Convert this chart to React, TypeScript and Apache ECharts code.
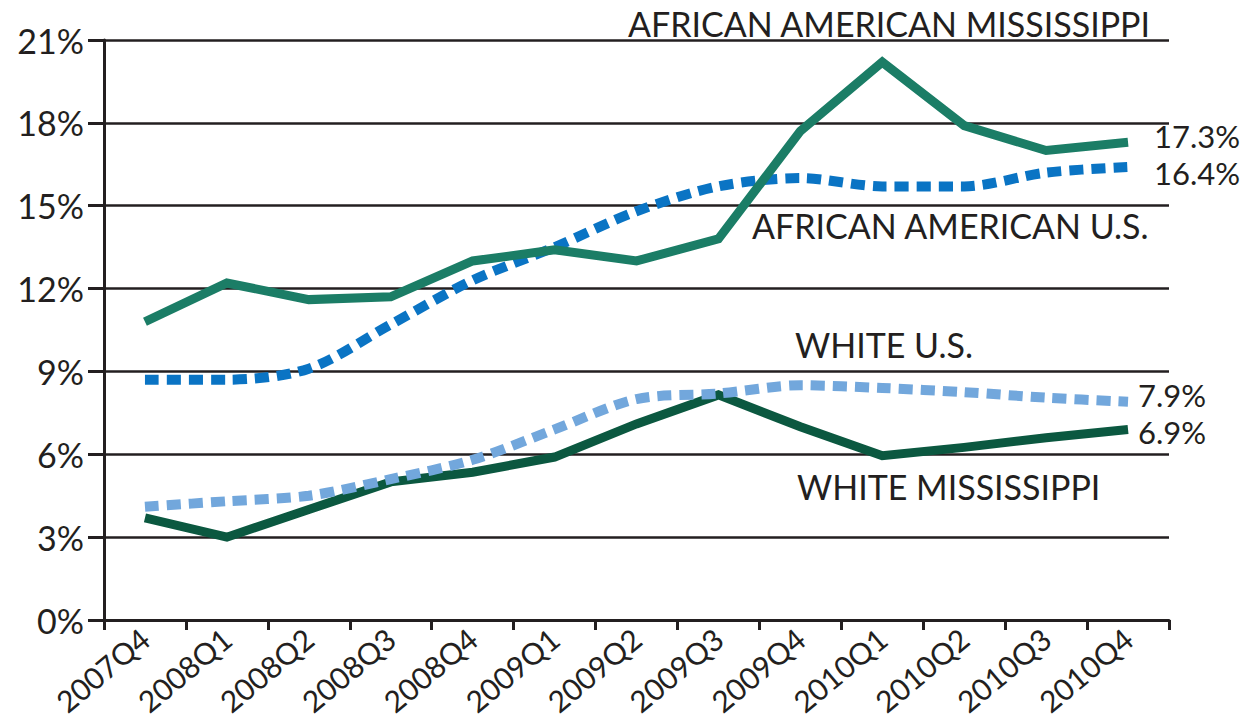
import React, { useEffect, useRef } from "react";
import * as echarts from "echarts";

const quarters = [
  "2007Q4", "2008Q1", "2008Q2", "2008Q3", "2008Q4", "2009Q1", "2009Q2",
  "2009Q3", "2009Q4", "2010Q1", "2010Q2", "2010Q3", "2010Q4",
];
const africanAmericanMS = [10.8, 12.2, 11.6, 11.7, 13.0, 13.4, 13.0, 13.8, 17.7, 20.2, 17.9, 17.0, 17.3];
const africanAmericanUS = [8.7, 8.7, 9.1, 10.7, 12.3, 13.5, 14.8, 15.7, 16.0, 15.7, 15.7, 16.2, 16.4];
const whiteUS = [4.1, 4.3, 4.5, 5.1, 5.8, 6.9, 8.0, 8.2, 8.5, 8.4, 8.25, 8.05, 7.9];
const whiteMS = [3.7, 3.0, 4.0, 5.0, 5.35, 5.9, 7.1, 8.15, 7.0, 5.95, 6.25, 6.6, 6.9];
const seriesNames = [
  "AFRICAN AMERICAN MISSISSIPPI",
  "AFRICAN AMERICAN U.S.",
  "WHITE U.S.",
  "WHITE MISSISSIPPI",
];

const FONT = "Lato, 'Noto Sans', sans-serif";
const INK = "#231f20";

export default function App() {
  const ref = useRef<HTMLDivElement>(null);
  useEffect(() => {
    if (!ref.current) return;
    const chart = echarts.init(ref.current, null, { renderer: "svg" });
    const endLabel = (distance: number, dy: number) => ({
      show: true,
      formatter: (p: any) => `${p.value}%`,
      fontFamily: FONT,
      fontSize: 31,
      lineHeight: 28,
      color: INK,
      distance,
      offset: [0, dy],
    });
    chart.setOption({
      animation: false,
      textStyle: { fontFamily: FONT },
      grid: { left: 104, right: 91, top: 40, bottom: 101, containLabel: false },
      xAxis: {
        type: "category",
        data: quarters,
        boundaryGap: true,
        axisLine: { lineStyle: { color: INK, width: 3 } },
        axisTick: { show: true, length: 10, lineStyle: { color: INK, width: 3 } },
        axisLabel: {
          rotate: 40,
          fontSize: 30,
          color: INK,
          fontFamily: FONT,
          margin: 14,
          interval: 0,
        },
      },
      yAxis: {
        type: "value",
        min: 0,
        max: 21,
        interval: 3,
        axisLine: { show: true, lineStyle: { color: INK, width: 3 } },
        axisTick: { show: true, length: 16, lineStyle: { color: INK, width: 3 } },
        axisLabel: {
          formatter: "{value}%",
          fontSize: 34,
          color: INK,
          fontFamily: FONT,
          margin: 20,
        },
        splitLine: { show: true, lineStyle: { color: INK, width: 2.5 } },
      },
      series: [
        {
          name: seriesNames[3],
          type: "line",
          data: whiteMS,
          symbol: "none",
          lineStyle: { color: "#0b5840", width: 9, cap: "butt", join: "miter" },
          endLabel: endLabel(10, 3),
          z: 2,
        },
        {
          name: seriesNames[2],
          type: "line",
          data: whiteUS,
          symbol: "none",
          smooth: 0.3,
          lineStyle: { color: "#72a7dc", width: 10, type: [14, 8], cap: "butt" },
          endLabel: endLabel(10, -7),
          z: 3,
        },
        {
          name: seriesNames[1],
          type: "line",
          data: africanAmericanUS,
          symbol: "none",
          smooth: 0.3,
          lineStyle: { color: "#0a74c4", width: 10, type: [14, 8], cap: "butt" },
          endLabel: endLabel(26, 6),
          z: 4,
        },
        {
          name: seriesNames[0],
          type: "line",
          data: africanAmericanMS,
          symbol: "none",
          lineStyle: { color: "#1b7d66", width: 9, cap: "butt", join: "miter" },
          endLabel: endLabel(26, -6),
          z: 5,
        },
      ],
      graphic: [
        { type: "text", left: 628, top: 6, style: { text: seriesNames[0], fontSize: 34, fontFamily: FONT, fill: INK } },
        { type: "text", left: 752, top: 208, style: { text: seriesNames[1], fontSize: 34, fontFamily: FONT, fill: INK } },
        { type: "text", left: 795, top: 327, style: { text: seriesNames[2], fontSize: 34, fontFamily: FONT, fill: INK } },
        { type: "text", left: 797, top: 469, style: { text: seriesNames[3], fontSize: 34, fontFamily: FONT, fill: INK } },
      ],
    });
    return () => chart.dispose();
  }, []);
  return (
    <div
      ref={ref}
      style={{ position: "fixed", left: 0, top: 0, width: 1260, height: 721, background: "#fff" }}
    />
  );
}
